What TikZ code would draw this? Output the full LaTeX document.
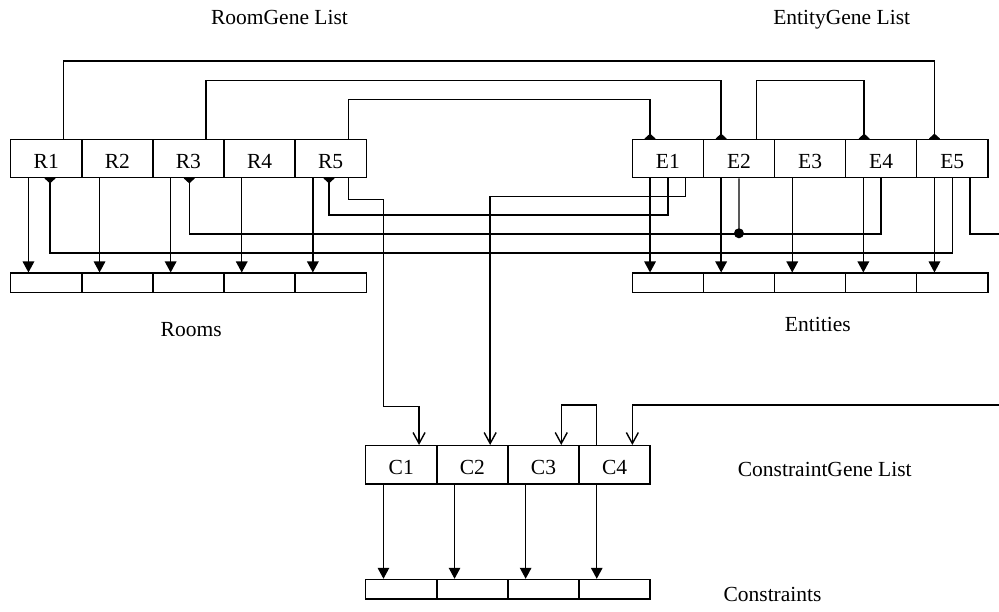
\documentclass[tikz,border=0pt]{standalone}
\usepackage{fontspec}
\setmainfont{Liberation Serif}
\usetikzlibrary{arrows.meta}
\pgfdeclarelayer{bg}
\pgfsetlayers{bg,main}
\newcommand{\fsz}{\fontsize{21.5}{26}\selectfont}
\begin{document}
\begin{tikzpicture}[x=1pt,y=-1pt,
  cell/.style={draw, fill=white, line width=1.4pt, minimum width=71.1pt, minimum height=38.4pt,
    inner sep=0pt, text height=20pt, text depth=0pt, font=\fsz},
  slot/.style={draw, fill=white, line width=1.4pt, minimum width=71.1pt, minimum height=19.6pt, inner sep=0pt},
  lbl/.style={font=\fsz, inner sep=0pt},
  conn/.style={line width=1.4pt},
  fa/.style={conn, -{Triangle[width=11.5pt,length=11pt]}},
  oa/.style={conn, -{Straight Barb[width=12pt,length=11pt]}},
  da/.style={conn, -{Diamond[width=11pt,length=10pt]}, shorten >=-5pt},
  jdot/.style={circle, fill, inner sep=0pt, minimum size=10pt}]
\useasboundingbox (0,0) rectangle (999,612);

% labels
\node[lbl, anchor=base] (tR) at (279.5,25) {RoomGene List};
\node[lbl, anchor=base] (tE) at (841.7,25) {EntityGene List};
\node[lbl, anchor=base] (tRo) at (191.2,336.7) {Rooms};
\node[lbl, anchor=base] (tEn) at (817.8,331.7) {Entities};
\node[lbl, anchor=base west] (tC) at (737.7,476.7) {ConstraintGene List};
\node[lbl, anchor=base east] (tCo) at (821.7,601.7) {Constraints};

% gene lists and data rows
\foreach \i in {1,...,5} {
  \node[cell] (R\i) at ({10.7+71.1*(\i-0.5)},158.5) {R\i};
  \node[slot] (r\i) at ({10.7+71.1*(\i-0.5)},283) {};
  \node[cell] (E\i) at ({632.3+71.1*(\i-0.5)},158.5) {E\i};
  \node[slot] (e\i) at ({632.3+71.1*(\i-0.5)},283) {};
}
\foreach \i in {1,...,4} {
  \node[cell] (C\i) at ({365.7+71.1*(\i-0.5)},464.85) {C\i};
  \node[slot] (c\i) at ({365.7+71.1*(\i-0.5)},589.3) {};
}
\node[jdot] (j) at (738.95,233.3) {};

\begin{pgfonlayer}{bg}
% gene -> data arrows
\foreach \i in {1,...,5} {
  \draw[fa] ([xshift=-17.8pt]R\i.south) -- ([xshift=-17.8pt]r\i.north);
  \draw[fa] ([xshift=-17.8pt]E\i.south) -- ([xshift=-17.8pt]e\i.north);
}
\foreach \i in {1,...,4} {
  \draw[fa] ([xshift=-17.8pt]C\i.south) -- ([xshift=-17.8pt]c\i.north);
}
% top links
\draw[da] ([xshift=17.5pt]R1.north) -- ++(0,-77.6) -| ([xshift=-17.8pt]E5.north);
\draw[da] ([xshift=17.5pt]R3.north) -- ++(0,-58.3) -| ([xshift=-17.8pt]E2.north);
\draw[da] ([xshift=17.8pt]R5.north) -- ++(0,-39.3) -| ([xshift=-17.8pt]E1.north);
\draw[da] ([xshift=17.8pt]E2.north) -- ++(0,-58.3) -| ([xshift=-17pt]E4.north);
% bottom links back to rooms
\draw[da] (E5.south) -- ++(0,74.6) -| ([xshift=3.75pt]R1.south);
\draw[da] (E4.south) -- ++(0,55.6) -| ([xshift=0.85pt]R3.south);
\draw[conn] (E2.south) -- (j.center);
\draw[da] (E1.south) -- ++(0,36.6) -| ([xshift=-1.65pt]R5.south);
% links to constraints
\draw[oa] ([xshift=17.8pt]R5.south) -- ++(0,21.3) -- ++(35,0) -- ++(0,206.7) -| ([xshift=17.8pt]C1.north);
\draw[oa] ([xshift=17.8pt]E1.south) -- ++(0,18) -| ([xshift=17.8pt]C2.north);
\draw[oa] ([xshift=17.8pt]E5.south) -- ++(0,55.6) -- ++(50,0) -- ++(0,171) -| ([xshift=17.8pt]C4.north);
\draw[oa] ([xshift=-17.8pt]C4.north) -- ++(0,-40) -| ([xshift=17.8pt]C3.north);
\end{pgfonlayer}
\end{tikzpicture}
\end{document}
